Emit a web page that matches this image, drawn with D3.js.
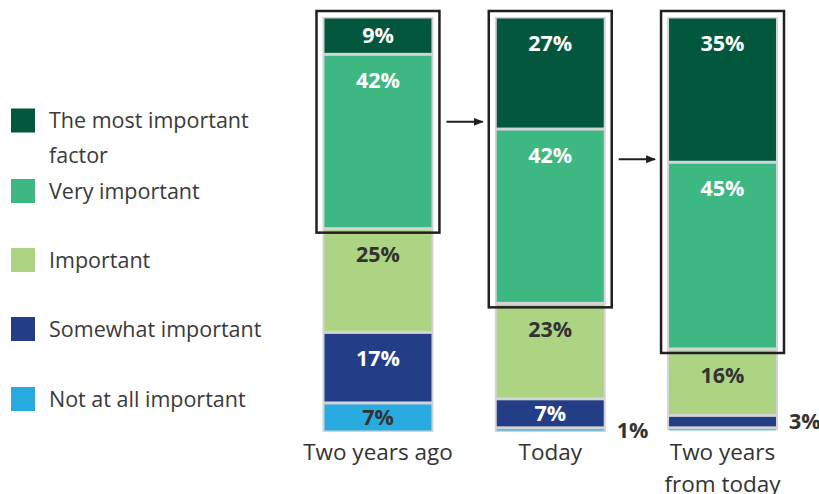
<!DOCTYPE html>
<html>
<head>
<meta charset="utf-8">
<script src="https://cdn.jsdelivr.net/npm/d3@7"></script>
<style>
  html, body { margin: 0; padding: 0; background: #fff; }
  svg { display: block; }
  text { font-family: "Open Sans", Lato, sans-serif; }
</style>
</head>
<body>
<svg id="chart" width="819" height="494"></svg>
<script>
// Survey: importance of the factor, share of respondents (%)
const categories = ["Two years ago", "Today", "Two years from today"];
const levels = ["The most important factor", "Very important", "Important", "Somewhat important", "Not at all important"];
const mostImportant = [9, 27, 35];
const veryImportant = [42, 42, 45];
const important = [25, 23, 16];
const somewhatImportant = [17, 7, 3];
const notAtAllImportant = [7, 1, 0.5];

const colors = ["#02573c", "#3db882", "#acd483", "#233d87", "#29abe2"];
const labelColors = ["#ffffff", "#ffffff", "#333333", "#ffffff", "#333333"];
const categoryLines = [["Two years ago"], ["Today"], ["Two years", "from today"]];
const legendLines = [["The most important", "factor"], ["Very important"], ["Important"], ["Somewhat important"], ["Not at all important"]];

const series = [mostImportant, veryImportant, important, somewhatImportant, notAtAllImportant];

const svg = d3.select("#chart");

const x = d3.scaleBand().domain(categories).range([322.5, 778]).paddingInner(0.356).paddingOuter(0);
const y = d3.scaleLinear().domain([0, 100]).range([17, 432]);
const bw = x.bandwidth();

// Build stacked segments from top (most important) down
const bars = categories.map((c, i) => {
  let acc = 0;
  const segs = series.map((s, k) => {
    const seg = { key: levels[k], k, value: s[i], y0: acc, y1: acc + s[i] };
    acc += s[i];
    return seg;
  });
  return { category: c, i, total: acc, segs };
});

const inset = 1.5;

const barG = svg.selectAll("g.bar").data(bars).join("g")
  .attr("class", "bar")
  .attr("transform", d => `translate(${x(d.category)},0)`);

// grey frame behind each column
barG.append("rect")
  .attr("x", 0).attr("width", bw)
  .attr("y", d => y(0))
  .attr("height", d => y(d.total) - y(0))
  .attr("fill", "#d3d4d5");

barG.selectAll("rect.seg").data(d => d.segs).join("rect")
  .attr("class", "seg")
  .attr("x", 2).attr("width", bw - 4)
  .attr("y", d => y(d.y0) + inset)
  .attr("height", d => Math.max(1, y(d.y1) - y(d.y0) - 2 * inset))
  .attr("fill", d => colors[d.k]);

// value labels: inside for larger segments, beside the column for small ones
barG.selectAll("text.val").data(d => d.segs.filter(s => s.value >= 1)).join("text")
  .attr("class", "val")
  .attr("x", d => d.value >= 5 ? bw / 2 : bw + 11)
  .attr("y", d => {
    const top = y(d.y0), mid = (y(d.y0) + y(d.y1)) / 2;
    return d.value >= 5 ? Math.min(top + 26, mid) : mid;
  })
  .attr("dy", "0.36em")
  .attr("text-anchor", d => d.value >= 5 ? "middle" : "start")
  .attr("font-size", 21.5)
  .attr("font-weight", 700)
  .attr("fill", d => d.value >= 5 ? labelColors[d.k] : "#333333")
  .text(d => d3.format("d")(d.value) + "%");

// highlight box round the two top categories
const pad = 6;
const boxes = bars.map(b => {
  const bottom = b.segs[1].y1;
  return {
    x0: x(b.category) - pad, x1: x(b.category) + bw + pad,
    y0: y(0) - pad, y1: y(bottom) + 4
  };
});
svg.selectAll("rect.box").data(boxes).join("rect")
  .attr("class", "box")
  .attr("x", d => d.x0).attr("y", d => d.y0)
  .attr("width", d => d.x1 - d.x0).attr("height", d => d.y1 - d.y0)
  .attr("fill", "none").attr("stroke", "#231f20").attr("stroke-width", 2.5);

// arrows between boxes
svg.append("defs").append("marker")
  .attr("id", "arrow").attr("viewBox", "0 0 10 10")
  .attr("refX", 9).attr("refY", 5)
  .attr("markerWidth", 5).attr("markerHeight", 5)
  .attr("markerUnits", "strokeWidth")
  .attr("orient", "auto")
  .append("path").attr("d", "M0,1 L10,5 L0,9 Z").attr("fill", "#231f20");

const arrows = d3.range(boxes.length - 1).map(i => ({
  x0: boxes[i].x1 + 7, x1: boxes[i + 1].x0 - 6,
  yy: (boxes[i].y0 + boxes[i].y1) / 2
}));
svg.selectAll("line.arrow").data(arrows).join("line")
  .attr("class", "arrow")
  .attr("x1", d => d.x0).attr("x2", d => d.x1)
  .attr("y1", d => d.yy).attr("y2", d => d.yy)
  .attr("stroke", "#231f20").attr("stroke-width", 2)
  .attr("marker-end", "url(#arrow)");

// category labels
barG.each(function (d) {
  const t = d3.select(this).append("text")
    .attr("x", bw / 2).attr("y", 452)
    .attr("text-anchor", "middle").attr("font-size", 22.5)
    .attr("fill", "#333333");
  categoryLines[d.i].forEach((line, j) => {
    t.append("tspan").attr("x", bw / 2).attr("dy", j === 0 ? "0.36em" : 32).text(line);
  });
});

// legend
const legend = svg.append("g");
const rowY = [120.5, 191, 260, 329, 399];
levels.forEach((lv, k) => {
  legend.append("rect")
    .attr("x", 11).attr("y", rowY[k] - 12).attr("width", 24).attr("height", 24)
    .attr("fill", colors[k]);
  const t = legend.append("text")
    .attr("x", 49).attr("y", rowY[k])
    .attr("font-size", 21.5).attr("fill", "#3a3a3a");
  legendLines[k].forEach((line, j) => {
    t.append("tspan").attr("x", 49).attr("dy", j === 0 ? "0.36em" : 35).text(line);
  });
});
</script>
</body>
</html>
